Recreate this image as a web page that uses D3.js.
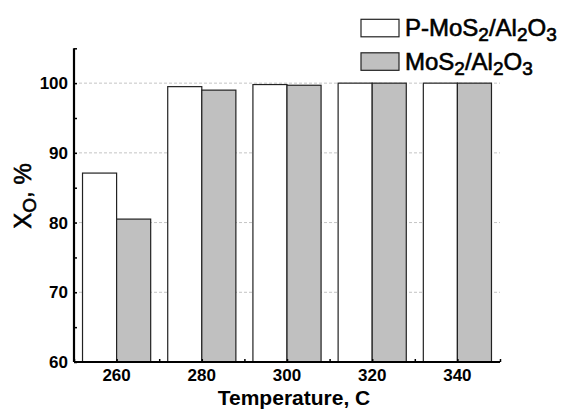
<!DOCTYPE html>
<html><head><meta charset="utf-8">
<script src="https://cdn.jsdelivr.net/npm/d3@7"></script>
<style>body{margin:0;background:#fff}svg{display:block}text{font-family:"Liberation Sans",Arial,sans-serif}</style>
</head><body>
<script>
const temperatures = [260, 280, 300, 320, 340];
const pMoS2 = [87.1, 99.5, 99.8, 100, 100];
const moS2 = [80.5, 99.0, 99.7, 100, 100];
const yTicks = [60, 70, 80, 90, 100];
const xTicks = [260, 280, 300, 320, 340];

const W = 565, H = 410;
const svg = d3.select("body").append("svg").attr("width", W).attr("height", H);
const x = d3.scaleLinear().domain([250, 350]).range([74, 500]);
const y = d3.scaleLinear().domain([60, 105]).range([362, 48.3]);
const barW = 8;

// grid
svg.append("g").selectAll("line").data(yTicks.slice(1)).join("line")
  .attr("x1", x(250)).attr("x2", x(350)).attr("y1", d => y(d)).attr("y2", d => y(d))
  .attr("stroke", "#c4c4c4").attr("stroke-width", 1).attr("stroke-dasharray", "3,2");

// bars
const g = svg.append("g");
g.selectAll(".p").data(temperatures).join("rect")
  .attr("x", (d) => x(d - barW)).attr("width", (d) => x(d) - x(d - barW))
  .attr("y", (d, i) => y(pMoS2[i])).attr("height", (d, i) => y(60) - y(pMoS2[i]))
  .attr("fill", "#fff").attr("stroke", "#222").attr("stroke-width", 1.2);
g.selectAll(".m").data(temperatures).join("rect")
  .attr("x", (d) => x(d)).attr("width", (d) => x(d + barW) - x(d))
  .attr("y", (d, i) => y(moS2[i])).attr("height", (d, i) => y(60) - y(moS2[i]))
  .attr("fill", "#c0c0c0").attr("stroke", "#222").attr("stroke-width", 1.2);

// axes
const yAxis = d3.axisLeft(y).tickValues(d3.range(60, 106, 5)).tickSize(-3).tickFormat("");
const ya = svg.append("g").attr("transform", `translate(${x(250)},0)`).call(yAxis);
ya.select(".domain").attr("stroke-width", 2.2).attr("d", `M0,${y(105)}V${y(60)}`);
ya.selectAll(".tick line").attr("stroke-width", 1.5);
const xAxis = d3.axisBottom(x).tickValues(d3.range(250, 351, 10)).tickSize(-3).tickFormat("");
const xa = svg.append("g").attr("transform", `translate(0,${y(60)})`).call(xAxis);
xa.select(".domain").attr("stroke-width", 2.2).attr("d", `M${x(250)},0H${x(350)}`);
xa.selectAll(".tick line").attr("stroke-width", 1.5);

// tick labels
svg.append("g").selectAll("text").data(yTicks).join("text")
  .attr("x", 68).attr("y", d => y(d)).attr("dy", "0.35em").attr("text-anchor", "end")
  .attr("font-size", 17).attr("font-weight", "bold").text(d => d);
svg.append("g").selectAll("text").data(xTicks).join("text")
  .attr("x", d => x(d)).attr("y", 381).attr("text-anchor", "middle")
  .attr("font-size", 17).attr("font-weight", "bold").text(d => d);

// axis titles
svg.append("text").attr("x", (x(250) + x(350)) / 2 + 7).attr("y", 405).attr("text-anchor", "middle")
  .attr("font-size", 21).attr("font-weight", "bold").text("Temperature, C");
const yt = svg.append("text").attr("transform", "translate(31,196) rotate(-90)")
  .attr("text-anchor", "middle").attr("font-size", 24)
  .attr("stroke", "#000").attr("stroke-width", 0.6);
yt.append("tspan").text("X");
yt.append("tspan").attr("font-size", 19).attr("dy", 5).text("O");
yt.append("tspan").attr("dy", -5).text(", %");

// legend
const legendLabels = [["P-MoS", "2", "/Al", "2", "O", "3"], ["MoS", "2", "/Al", "2", "O", "3"]];
const legendFills = ["#fff", "#c0c0c0"];
legendLabels.forEach((parts, i) => {
  const top = 19.3 + i * 33.5;
  svg.append("rect").attr("x", 361).attr("y", top).attr("width", 38).attr("height", 17.5)
    .attr("fill", legendFills[i]).attr("stroke", "#222").attr("stroke-width", 1.2);
  const t = svg.append("text").attr("x", 405).attr("y", top + 17).attr("font-size", 24)
    .attr("stroke", "#000").attr("stroke-width", 0.6);
  parts.forEach((p, k) => {
    const sub = k % 2 === 1;
    t.append("tspan").attr("font-size", sub ? 19 : 24).attr("dy", sub ? 5 : (k > 0 ? -5 : 0)).text(p);
  });
});
</script>
</body></html>
